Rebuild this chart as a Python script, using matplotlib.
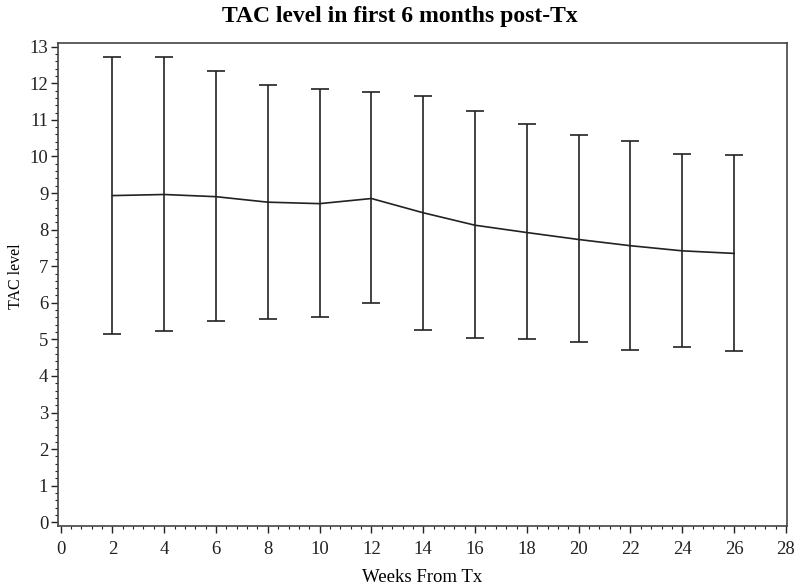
import matplotlib
matplotlib.use("Agg")
import matplotlib.pyplot as plt
from matplotlib.ticker import MultipleLocator

weeks = [2, 4, 6, 8, 10, 12, 14, 16, 18, 20, 22, 24, 26]
mean_tac = [8.93, 8.96, 8.90, 8.75, 8.71, 8.85, 8.46, 8.12, 7.92, 7.73, 7.56, 7.42, 7.35]
upper = [12.73, 12.73, 12.33, 11.94, 11.85, 11.76, 11.64, 11.24, 10.88, 10.58, 10.42, 10.06, 10.03]
lower = [5.14, 5.23, 5.51, 5.57, 5.61, 5.99, 5.27, 5.05, 5.02, 4.94, 4.72, 4.80, 4.69]

title = "TAC level in first 6 months post-Tx"
xlabel = "Weeks From Tx"
ylabel = "TAC level"
xticks = list(range(0, 29, 2))
yticks = list(range(0, 14))

fig = plt.figure(figsize=(8, 5.86), dpi=100)
ax = fig.add_axes([0.0725, 0.1024, 0.9115, 0.8242])

serif = ["Liberation Serif", "DejaVu Serif"]

yerr = [[m - l for m, l in zip(mean_tac, lower)], [u - m for m, u in zip(mean_tac, upper)]]
ax.errorbar(weeks, mean_tac, yerr=yerr, color="#222222", lw=1.2, elinewidth=1.2,
            capsize=6.3, capthick=1.2)

ax.set_xlim(-0.1, 28.05)
ax.set_ylim(-0.1, 13.1)
ax.set_xticks(xticks)
ax.set_yticks(yticks)
ax.xaxis.set_minor_locator(MultipleLocator(0.4))
ax.yaxis.set_minor_locator(MultipleLocator(0.2))
ax.tick_params(axis="both", which="major", direction="out", length=5, width=1, labelsize=13.5, colors="#222222")
ax.tick_params(axis="x", which="major", pad=6)
ax.tick_params(axis="y", which="major", pad=2)
ax.tick_params(axis="both", which="minor", direction="out", length=2.5, width=0.8, colors="#222222")
for lab in ax.get_xticklabels() + ax.get_yticklabels():
    lab.set_family(serif)
for sp in ax.spines.values():
    sp.set_color("#444444")
    sp.set_linewidth(1.2)

fig.text(0.5, 0.972, title, ha="center", va="center", fontsize=17, fontweight="bold", family=serif)
ax.set_xlabel(xlabel, fontsize=13.5, family=serif, labelpad=8)
ax.set_ylabel(ylabel, fontsize=11.5, family=serif)
ax.yaxis.set_label_coords(-0.047, 0.518)

fig.savefig("out.png", dpi=100)
